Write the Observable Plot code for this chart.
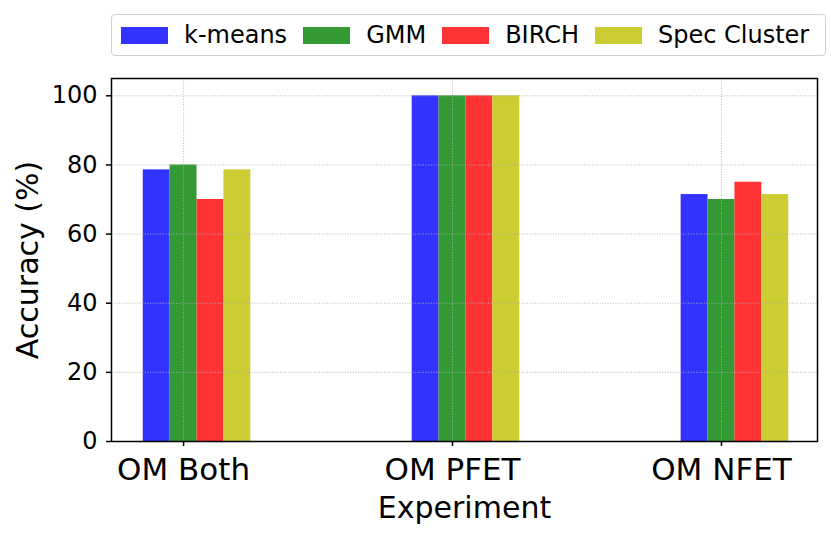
<!DOCTYPE html>
<html>
<head>
<meta charset="utf-8">
<script src="https://cdn.jsdelivr.net/npm/d3@7"></script>
<script src="https://cdn.jsdelivr.net/npm/@observablehq/plot@0.6"></script>
<style>
  body { margin: 0; background: #fff; font-family: "DejaVu Sans", sans-serif; }
  #wrap { position: relative; width: 831px; height: 538px; overflow: hidden; }
  #legend { position: absolute; left: 111px; top: 14px; width: 704px; height: 40px;
            border: 1.5px solid #d0d0d0; border-radius: 4px; display: flex; align-items: center;
            padding-left: 9px; box-sizing: content-box; font-size: 24px; color: #000;
            white-space: nowrap; overflow: visible; }
  .item { display: flex; align-items: center; margin-right: 16px; flex-shrink: 0; white-space: nowrap; }
  .sw { width: 47px; height: 17px; margin-right: 16px; flex-shrink: 0; }
  #chart { position: absolute; left: 0; top: 62px; }
</style>
</head>
<body>
<div id="wrap">
  <div id="legend"></div>
  <div id="chart"></div>
</div>
<script>
const experiments = ["OM Both", "OM PFET", "OM NFET"];
const methods = ["k-means", "GMM", "BIRCH", "Spec Cluster"];
const kmeans = [78.57, 100, 71.43];
const gmm = [80, 100, 70];
const birch = [70, 100, 75];
const spec = [78.57, 100, 71.43];
const colors = ["#3333ff", "#339933", "#ff3333", "#cccc33"];
const yTicks = [0, 20, 40, 60, 80, 100];

const series = [kmeans, gmm, birch, spec];
const barW = 0.1;
const rows = [];
methods.forEach((m, i) => {
  experiments.forEach((e, j) => {
    const c = j + (i - 1) * barW;
    rows.push({method: m, x1: c - barW / 2, x2: c + barW / 2, value: series[i][j]});
  });
});

// legend
const leg = d3.select("#legend");
methods.forEach((m, i) => {
  const it = leg.append("div").attr("class", "item");
  it.append("div").attr("class", "sw").style("background", colors[i]);
  it.append("span").text(m);
});

const xIdx = experiments.map((d, i) => i);

const plot = Plot.plot({
  width: 831,
  height: 476,
  marginLeft: 111,
  marginRight: 14,
  marginTop: 16,
  marginBottom: 97,
  style: {fontFamily: "DejaVu Sans, sans-serif", color: "#000", background: "#fff"},
  x: {domain: [-0.268, 2.357]},
  y: {domain: [0, 105]},
  color: {domain: methods, range: colors},
  marks: [
    Plot.rect(rows, {x1: "x1", x2: "x2", y1: 0, y2: "value", fill: "method"}),
    Plot.ruleY(yTicks, {stroke: "#b0b0b0", strokeWidth: 0.9, strokeDasharray: "1,1.6"}),
    Plot.ruleX(xIdx, {stroke: "#b0b0b0", strokeWidth: 0.9, strokeDasharray: "1,1.6"}),
    Plot.axisY(yTicks, {label: null, tickSize: 5, tickPadding: 9, fontSize: 24, strokeWidth: 1.5}),
    Plot.axisX(xIdx, {label: null, tickSize: 5, tickPadding: 11, fontSize: 31, strokeWidth: 1.5,
      tickFormat: (d) => experiments[d]}),
    Plot.frame({stroke: "#000", strokeWidth: 1.5}),
    Plot.text(["Accuracy (%)"], {frameAnchor: "left", textAnchor: "middle", dx: -83, rotate: -90, fontSize: 30, fill: "#000"}),
    Plot.text(["Experiment"], {frameAnchor: "bottom", dy: 76, fontSize: 30, fill: "#000"})
  ]
});
document.getElementById("chart").appendChild(plot);
</script>
</body>
</html>
